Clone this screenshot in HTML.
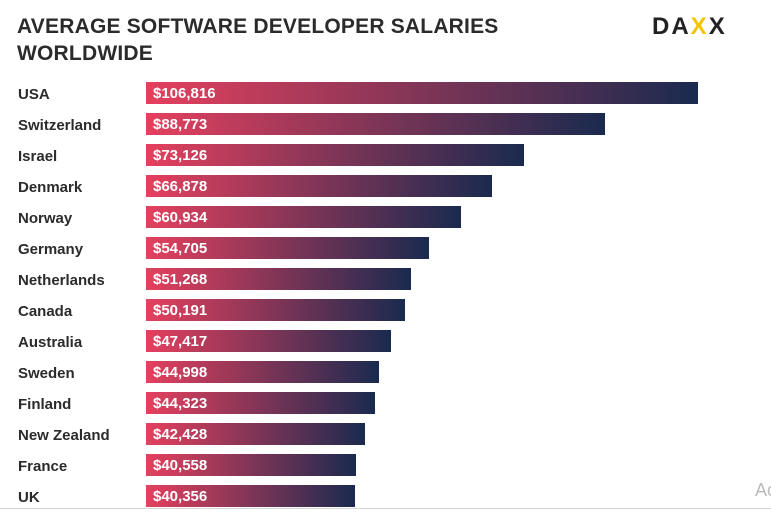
<!DOCTYPE html>
<html><head><meta charset="utf-8"><style>
body{margin:0;width:771px;height:513px;background:#fff;overflow:hidden;font-family:"Liberation Sans","DejaVu Sans",sans-serif;position:relative}
.title{position:absolute;left:17px;top:13px;font-size:21px;font-weight:bold;color:#2b2b2b;line-height:27px;letter-spacing:0.2px}
.logo{position:absolute;left:652px;top:13px;font-size:24px;font-weight:bold;color:#222;letter-spacing:2px}
.logo span{color:#f5c400}
.row{position:absolute;left:0;width:771px;height:22px}
.lab{position:absolute;left:18px;top:2px;line-height:22px;font-size:15px;font-weight:bold;color:#2b2b2b}
.bar{position:absolute;left:146px;top:0;height:22px;background:linear-gradient(90deg,#e5405e,#1a2a4f)}
.val{position:absolute;left:7px;top:1px;line-height:22px;font-size:15px;font-weight:bold;color:#fff}
.wm{position:absolute;left:755px;top:480px;font-size:18px;color:#bbb}
.line{position:absolute;left:0;top:508px;width:771px;height:1px;background:#d5d5d5}
</style></head><body>
<div class="title">AVERAGE SOFTWARE DEVELOPER SALARIES<br>WORLDWIDE</div>
<div class="logo">DA<span>X</span>X</div>
<div id="chart"></div>
<div class="wm">Ac</div>
<div class="line"></div>
<script>
const countries=["USA","Switzerland","Israel","Denmark","Norway","Germany","Netherlands","Canada","Australia","Sweden","Finland","New Zealand","France","UK"];
const salaries=[106816,88773,73126,66878,60934,54705,51268,50191,47417,44998,44323,42428,40558,40356];
const maxVal=106816, maxW=552, top0=82, step=31;
const xs=v=>v/maxVal*maxW;
const c=document.getElementById('chart');
countries.forEach((n,i)=>{
  const r=document.createElement('div');r.className='row';r.style.top=(top0+i*step)+'px';
  
  
  const l=document.createElement('div');l.className='lab';l.textContent=n;
  
  
  const b=document.createElement('div');b.className='bar';b.style.width=xs(salaries[i])+'px';
  
  
  const v=document.createElement('div');v.className='val';v.textContent='$'+salaries[i].toLocaleString('en-US');
  
  
  b.appendChild(v);r.appendChild(l);r.appendChild(b);c.appendChild(r);
});
</script>
</body></html>
